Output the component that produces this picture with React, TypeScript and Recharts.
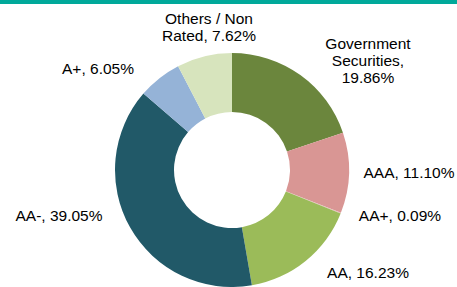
import { PieChart, Pie, Cell } from 'recharts'

const categories = ['Government Securities', 'AAA', 'AA+', 'AA', 'AA-', 'A+', 'Others / Non Rated']
const shares = [19.86, 11.1, 0.09, 16.23, 39.05, 6.05, 7.62]
const labelLines = [
  ['Government', 'Securities,', '19.86%'],
  ['AAA, 11.10%'],
  ['AA+, 0.09%'],
  ['AA, 16.23%'],
  ['AA-, 39.05%'],
  ['A+, 6.05%'],
  ['Others / Non', 'Rated, 7.62%'],
]

const colors = ['#6B863D', '#D99694', '#E4B9B7', '#9BBB59', '#215968', '#95B3D7', '#D7E4BD']

// label anchor offsets from the pie centre (first line centre)
const labelOffsets = [
  { dx: 136, dy: -127 },
  { dx: 177, dy: 2 },
  { dx: 168, dy: 45 },
  { dx: 136, dy: 102 },
  { dx: -173, dy: 45 },
  { dx: -134, dy: -102 },
  { dx: -23, dy: -152 },
]
const lineHeight = 17

const data = categories.map((name, i) => ({ name, value: shares[i] }))

function renderLabel(props: any) {
  const { cx, cy, index } = props
  const off = labelOffsets[index]
  return (
    <text
      x={cx + off.dx}
      y={cy + off.dy}
      textAnchor="middle"
      dominantBaseline="central"
      fill="#000"
      fontSize={15.5}
      fontFamily="'Liberation Sans', Arial, sans-serif"
    >
      {labelLines[index].map((line, j) => (
        <tspan key={j} x={cx + off.dx} dy={j === 0 ? 0 : lineHeight}>
          {line}
        </tspan>
      ))}
    </text>
  )
}

export default function App() {
  return (
    <div style={{ position: 'absolute', left: 0, top: 0, width: 457, height: 287, background: '#fff' }}>
      <div style={{ position: 'absolute', left: 0, top: 0, width: 457, height: 4, background: '#00A99A' }} />
      <PieChart width={457} height={287} margin={{ top: 0, right: 0, bottom: 0, left: 0 }}>
        <Pie
          data={data}
          dataKey="value"
          nameKey="name"
          cx={232}
          cy={170}
          innerRadius={58}
          outerRadius={117}
          startAngle={90}
          endAngle={-270}
          stroke="none"
          label={renderLabel}
          labelLine={false}
          isAnimationActive={false}
        >
          {data.map((_entry, index) => (
            <Cell key={`cell-${index}`} fill={colors[index]} />
          ))}
        </Pie>
      </PieChart>
    </div>
  )
}
